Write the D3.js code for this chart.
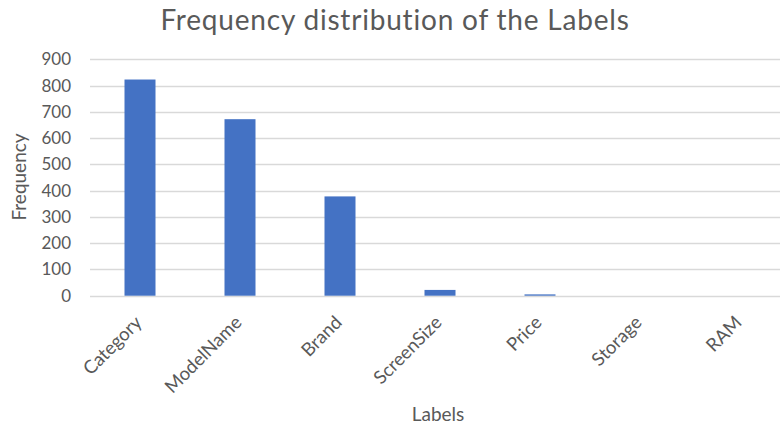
<!DOCTYPE html>
<html>
<head>
<meta charset="utf-8">
<script src="https://cdn.jsdelivr.net/npm/d3@7"></script>
<style>
  html, body { margin: 0; padding: 0; background: #ffffff; }
  svg { display: block; font-family: Lato, "Open Sans", sans-serif; }
</style>
</head>
<body>
<svg id="chart" width="780" height="427"></svg>
<script>
// Label names and how often each one occurs
const categories = ["Category", "ModelName", "Brand", "ScreenSize", "Price", "Storage", "RAM"];
const frequencies = [823, 672, 378, 22, 5, 0, 0];
const yTicks = [0, 100, 200, 300, 400, 500, 600, 700, 800, 900];

const FONT = "Lato, \"Open Sans\", sans-serif";
const svg = d3.select("#chart");
const W = 780, H = 427;
const plot = { left: 90, right: 790, top: 59.3, bottom: 295.7 };

const x = d3.scaleBand()
  .domain(categories)
  .range([plot.left, plot.right])
  .paddingInner(0.69)
  .paddingOuter(0.345);

const y = d3.scaleLinear()
  .domain([0, 900])
  .range([plot.bottom, plot.top]);

// Title
svg.append("text")
  .attr("x", 395)
  .attr("y", 29.5)
  .attr("text-anchor", "middle")
  .attr("fill", "#595959")
  .attr("font-size", 28)
  .attr("letter-spacing", 0.8)
  .text("Frequency distribution of the Labels");

// Horizontal gridlines
svg.append("g")
  .selectAll("line")
  .data(yTicks)
  .join("line")
  .attr("x1", plot.left)
  .attr("x2", W)
  .attr("y1", d => Math.round(y(d)) + 0.5)
  .attr("y2", d => Math.round(y(d)) + 0.5)
  .attr("stroke", "#d9d9d9")
  .attr("stroke-width", 1.3);

// Y axis tick labels
const yAxis = d3.axisLeft(y).tickValues(yTicks).tickSize(0).tickPadding(0);
const gy = svg.append("g")
  .attr("transform", `translate(${plot.left - 19},0)`)
  .call(yAxis);
gy.select(".domain").remove();
gy.selectAll("text")
  .attr("fill", "#595959")
  .attr("font-size", 17)
  .attr("font-family", FONT);

// Bars
svg.append("g")
  .selectAll("rect")
  .data(categories.map((c, i) => ({ c, v: frequencies[i] })))
  .join("rect")
  .attr("x", d => x(d.c))
  .attr("width", x.bandwidth())
  .attr("y", d => y(d.v))
  .attr("height", d => y(0) - y(d.v))
  .attr("fill", "#4472c4");

// X axis category labels, rotated
const xAxis = d3.axisBottom(x).tickSize(0).tickPadding(0);
const gx = svg.append("g")
  .attr("transform", `translate(0,${plot.bottom})`)
  .call(xAxis);
gx.select(".domain").remove();
gx.selectAll("text")
  .attr("fill", "#595959")
  .attr("font-size", 18.5)
  .attr("font-family", FONT)
  .attr("text-anchor", "end")
  .attr("dy", 0)
  .attr("transform", "translate(3,28) rotate(-45)");

// Axis titles
svg.append("text")
  .attr("x", 438)
  .attr("y", 421)
  .attr("text-anchor", "middle")
  .attr("fill", "#595959")
  .attr("font-size", 19)
  .text("Labels");

svg.append("text")
  .attr("transform", "translate(26,177) rotate(-90)")
  .attr("text-anchor", "middle")
  .attr("fill", "#595959")
  .attr("font-size", 19)
  .text("Frequency");
</script>
</body>
</html>
